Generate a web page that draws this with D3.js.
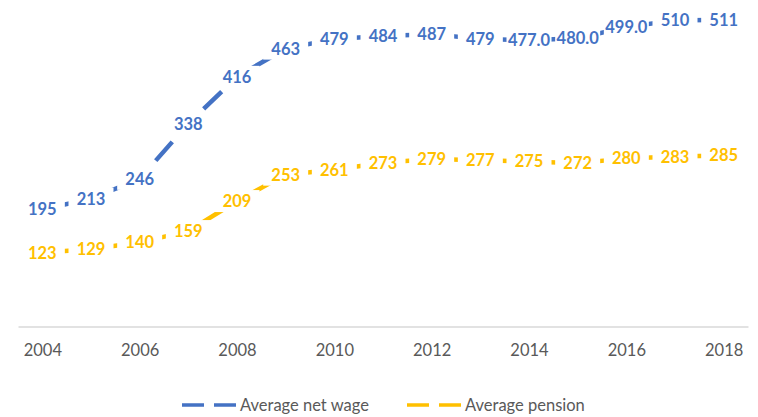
<!DOCTYPE html>
<html>
<head>
<meta charset="utf-8">
<script src="https://cdn.jsdelivr.net/npm/d3@7"></script>
<style>
  body { margin: 0; background: #fff; }
  svg { display: block; font-family: Lato, 'Open Sans', sans-serif; }
</style>
</head>
<body>
<div id="chart"></div>
<script>
// data
const years = ['2004', '2005', '2006', '2007', '2008', '2009', '2010', '2011',
  '2012', '2013', '2014', '2015', '2016', '2017', '2018'];
const netWage = [195, 213, 246, 338, 416, 463, 479, 484, 487, 479, 477, 480, 499, 510, 511];
const netWageLabels = ['195', '213', '246', '338', '416', '463', '479', '484', '487', '479',
  '477.0', '480.0', '499.0', '510', '511'];
const pension = [123, 129, 140, 159, 209, 253, 261, 273, 279, 277, 275, 272, 280, 283, 285];
const pensionLabels = pension.map(String);
const tickYears = ['2004', '2006', '2008', '2010', '2012', '2014', '2016', '2018'];

const series = [
  { name: 'Average net wage', values: netWage, labels: netWageLabels, color: '#4472C4', legendX: 182 },
  { name: 'Average pension', values: pension, labels: pensionLabels, color: '#FFC000', legendX: 407 }
];

const width = 758;
const height = 417;
const dash = 25;
const gap = 14;
const boxW = 45; // white box behind each data label
const boxH = 22;

const svg = d3.select('#chart')
  .append('svg')
  .attr('width', width)
  .attr('height', height);

// scales
const x = d3.scalePoint()
  .domain(years)
  .range([18, 748])
  .padding(0.5);

const y = d3.scaleLinear()
  .domain([0, 544])
  .range([326.5, 0]);

// category axis: plain grey line, labels every other year
const xAxis = svg.append('g')
  .attr('transform', `translate(0, ${y(0)})`)
  .call(d3.axisBottom(x).tickSize(0).tickPadding(18)
    .tickFormat(d => tickYears.includes(d) ? d : ''));
xAxis.select('.domain').attr('stroke', '#d9d9d9').attr('stroke-width', 1.3);
xAxis.selectAll('text')
  .attr('fill', '#595959')
  .style('font-size', '16.5px')
  .style('font-family', 'Lato, sans-serif');

// dashed lines, one segment per pair of years so a dash sits mid-way
series.forEach(function (s) {
  const segs = d3.pairs(s.values.map((v, i) => [x(years[i]), y(v)]));
  svg.append('g')
    .selectAll('line')
    .data(segs)
    .join('line')
    .attr('x1', d => d[0][0])
    .attr('y1', d => d[0][1])
    .attr('x2', d => d[1][0])
    .attr('y2', d => d[1][1])
    .attr('stroke', s.color)
    .attr('stroke-width', 4.5)
    .attr('stroke-dasharray', `${dash},${gap}`)
    .attr('stroke-dashoffset', function (d) {
      const len = Math.hypot(d[1][0] - d[0][0], d[1][1] - d[0][1]);
      return dash / 2 - len / 2;
    });
});

// data labels sit on the points, white box hides the line underneath
series.forEach(function (s) {
  const lab = svg.append('g')
    .selectAll('g')
    .data(s.values.map((v, i) => ({ v: v, year: years[i], text: s.labels[i] })))
    .join('g')
    .attr('transform', d => `translate(${x(d.year)}, ${y(d.v)})`);
  lab.append('rect')
    .attr('x', -boxW / 2)
    .attr('y', -boxH / 2)
    .attr('width', boxW)
    .attr('height', boxH)
    .attr('fill', '#fff');
  lab.append('text')
    .attr('text-anchor', 'middle')
    .attr('dy', '0.36em')
    .attr('fill', s.color)
    .style('font-size', '16.5px')
    .style('font-weight', 'bold')
    .text(d => d.text);
});

// legend
const legend = svg.selectAll('.legend')
  .data(series)
  .join('g')
  .attr('class', 'legend')
  .attr('transform', d => `translate(${d.legendX}, 405)`);
legend.append('line')
  .attr('x1', 0)
  .attr('x2', 54)
  .attr('stroke', d => d.color)
  .attr('stroke-width', 3.5)
  .attr('stroke-dasharray', '22,10');
legend.append('text')
  .attr('x', 58)
  .attr('dy', '0.36em')
  .attr('fill', '#595959')
  .style('font-size', '16.5px')
  .text(d => d.name);
</script>
</body>
</html>
